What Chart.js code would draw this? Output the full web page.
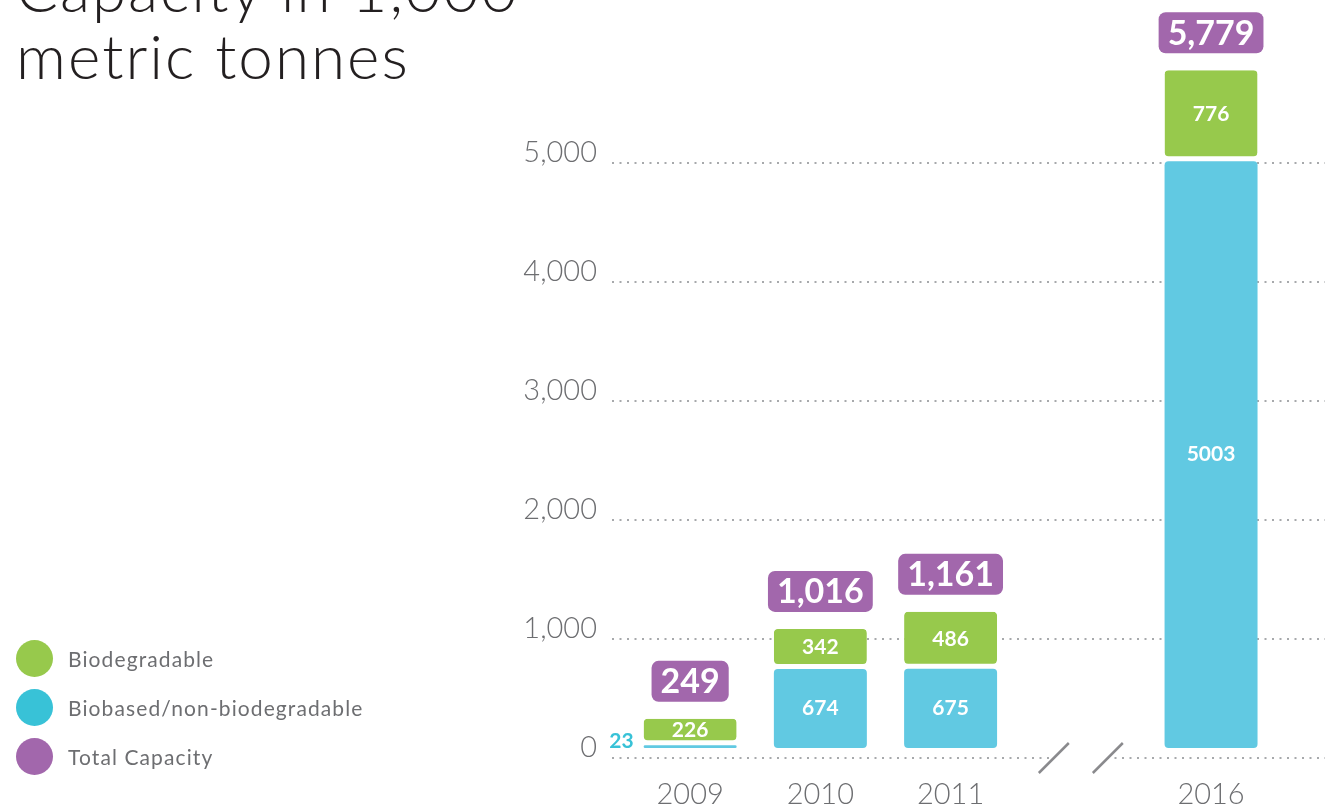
<!DOCTYPE html>
<html>
<head>
<meta charset="utf-8">
<title>Capacity in 1,000 metric tonnes</title>
<script src="https://cdn.jsdelivr.net/npm/chart.js@4.4.0/dist/chart.umd.min.js"></script>
<style>
  html, body { margin: 0; padding: 0; background: #fff; overflow: hidden; }
  #wrap { position: relative; width: 1325px; height: 810px; }
  #chart { position: absolute; left: 0; top: 0; }
  .title { position: absolute; left: 16px; top: -45px; font: 300 62px/67px Lato, sans-serif; letter-spacing: 2px; color: #231f20; white-space: nowrap; }
  .legend { position: absolute; left: 16px; top: 634px; font: 400 21px Lato, sans-serif; letter-spacing: 1.1px; color: #6d6e71; }
  .legend .row { display: flex; align-items: center; height: 49px; }
  .legend .dot { width: 37px; height: 37px; border-radius: 50%; margin-right: 15px; }
</style>
</head>
<body>
<div id="wrap">
  <canvas id="chart" width="1325" height="810"></canvas>
  <div class="title">Capacity in 1,000<br>metric tonnes</div>
  <div class="legend">
    <div class="row"><span class="dot" style="background:#97c94c"></span>Biodegradable</div>
    <div class="row"><span class="dot" style="background:#38c2d7"></span>Biobased/non-biodegradable</div>
    <div class="row"><span class="dot" style="background:#a267ac"></span>Total Capacity</div>
  </div>
</div>
<script>
// ---- data ----
const years         = ['2009', '2010', '2011', '2016'];
const slots         = [0, 1, 2, 4];          // 2012-2015 left out, axis break sits at slot 3
const biobased      = [23, 674, 675, 5003];
const biodegradable = [226, 342, 486, 776];
const totals        = [249, 1016, 1161, 5779];
const yTicks        = [0, 1000, 2000, 3000, 4000, 5000];

// ---- style ----
const GREEN  = '#97c94c';
const BLUE   = '#61c9e2';
const BLUE_TXT = '#38c2d7';
const PURPLE = '#a267ac';
const GREY   = '#6d6e71';
const GAP    = 5;
const R      = 4;

const barLabels = {
  id: 'barLabels',
  afterDatasetsDraw(chart) {
    const { ctx } = chart;
    const blue  = chart.getDatasetMeta(0).data;
    const green = chart.getDatasetMeta(1).data;
    ctx.save();
    ctx.textAlign = 'center';
    ctx.textBaseline = 'middle';
    ctx.font = 'bold 21px Lato, sans-serif';

    blue.forEach((bar, i) => {
      const h = bar.base - bar.y;
      if (h < 20) {
        // too thin, label goes to the left of the bar
        ctx.fillStyle = BLUE_TXT;
        ctx.textAlign = 'right';
        ctx.textBaseline = 'alphabetic';
        ctx.fillText(biobased[i], bar.x - bar.width / 2 - 10, bar.base);
        ctx.textAlign = 'center';
        ctx.textBaseline = 'middle';
      } else {
        ctx.fillStyle = '#fff';
        ctx.fillText(biobased[i], bar.x, (bar.y + bar.base) / 2);
      }
    });

    green.forEach((bar, i) => {
      ctx.fillStyle = '#fff';
      ctx.fillText(biodegradable[i], bar.x, (bar.y + bar.base - GAP) / 2 + 1);
    });

    // total capacity boxes
    ctx.font = 'bold 34px Lato, sans-serif';
    green.forEach((bar, i) => {
      const txt = totals[i].toLocaleString('en-US');
      const w = ctx.measureText(txt).width + 18;
      const h = 41;
      const bottom = bar.y - 17;
      ctx.fillStyle = PURPLE;
      ctx.beginPath();
      ctx.roundRect(bar.x - w / 2, bottom - h, w, h, 7);
      ctx.fill();
      ctx.fillStyle = '#fff';
      ctx.fillText(txt, bar.x, bottom - h / 2 + 1);
    });

    // axis break between 2011 and 2016
    const cx = chart.scales.x.getPixelForValue(3);
    const cy = chart.scales.y.getPixelForValue(0);
    ctx.fillStyle = '#fff';
    ctx.fillRect(cx - 27, cy - 4, 54, 8);
    ctx.strokeStyle = '#8a8a8d';
    ctx.lineWidth = 2.5;
    [-27, 27].forEach(d => {
      ctx.beginPath();
      ctx.moveTo(cx + d - 15, cy + 15);
      ctx.lineTo(cx + d + 15, cy - 15);
      ctx.stroke();
    });
    ctx.restore();
  }
};

new Chart(document.getElementById('chart'), {
  type: 'bar',
  data: {
    datasets: [{
      label: 'Biobased/non-biodegradable',
      data: slots.map((x, i) => ({ x, y: biobased[i] })),
      backgroundColor: BLUE,
      yAxisID: 'yBar',
      borderSkipped: false,
      borderRadius: { topLeft: R, topRight: R, bottomLeft: R, bottomRight: R },
      barPercentage: 0.714,
      categoryPercentage: 1
    }, {
      label: 'Biodegradable',
      data: slots.map((x, i) => ({ x, y: biodegradable[i] })),
      backgroundColor: GREEN,
      borderColor: '#fff',
      borderWidth: { top: 0, left: 0, right: 0, bottom: GAP },
      yAxisID: 'yBar',
      borderSkipped: false,
      borderRadius: { topLeft: R, topRight: R, bottomLeft: R + GAP, bottomRight: R + GAP },
      barPercentage: 0.714,
      categoryPercentage: 1
    }]
  },
  options: {
    responsive: false,
    animation: false,
    layout: { padding: { top: 8, left: 0, right: 0, bottom: 0 } },
    plugins: { legend: { display: false }, tooltip: { enabled: false } },
    scales: {
      x: {
        type: 'linear', min: -0.6, max: 4.875, stacked: true, offset: false,
        grid: { display: false, drawTicks: false },
        border: { display: false },
        afterBuildTicks: axis => { axis.ticks = slots.map(v => ({ value: v })); },
        afterFit: axis => { axis.height = 52; axis.paddingLeft = 0; axis.paddingRight = 0; },
        ticks: {
          callback: (v, i) => years[i],
          autoSkip: false, maxRotation: 0,
          color: GREY, padding: 19,
          font: { family: 'Lato', size: 29, weight: '300' }
        }
      },
      y: {
        min: 0, max: 6300,
        afterBuildTicks: axis => { axis.ticks = yTicks.map(v => ({ value: v })); },
        afterFit: axis => { axis.width = 612; axis.paddingTop = 0; axis.paddingBottom = 0; },
        grid: { color: '#a7a9ac', lineWidth: 2, drawTicks: false },
        border: { display: false, dash: [2, 5.5] },
        ticks: {
          callback: v => v.toLocaleString('en-US'),
          color: GREY, padding: 15, labelOffset: -10,
          font: { family: 'Lato', size: 29, weight: '300' }
        }
      },
      yBar: { display: false, stacked: true, min: -85, max: 6310 }
    }
  },
  plugins: [barLabels]
});
</script>
</body>
</html>
